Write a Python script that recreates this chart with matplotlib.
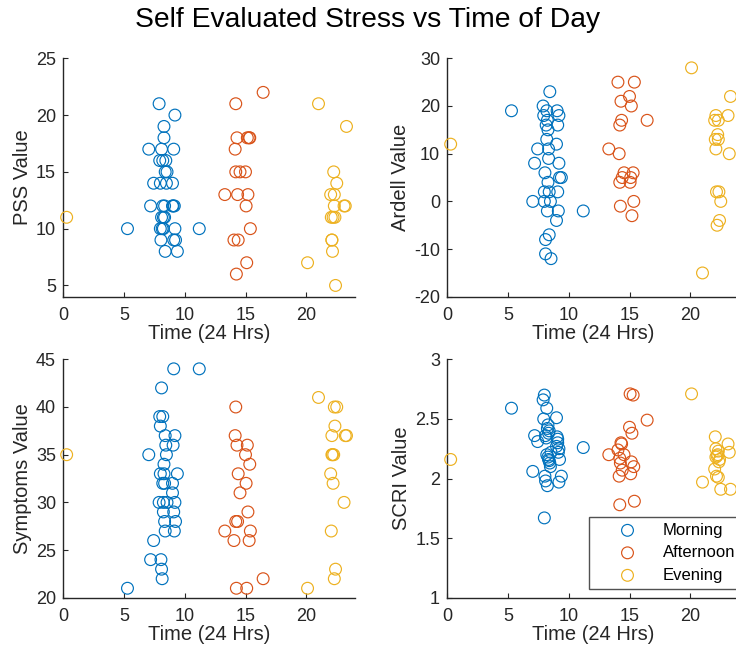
import matplotlib
matplotlib.use("Agg")
import matplotlib.pyplot as plt
from matplotlib.ticker import FormatStrFormatter

plt.rcParams['font.family'] = ['Liberation Sans', 'DejaVu Sans']

# ---------------- data ----------------
groups = ["Morning", "Afternoon", "Evening"]
colors = ["#0072BD", "#D95319", "#EDB120"]

morning_time = [5.3, 7.05, 7.2, 7.45,
                7.9, 7.95, 8.0, 8.0, 8.05, 8.1, 8.1, 8.15, 8.2, 8.2, 8.25, 8.25, 8.3, 8.3,
                8.35, 8.35, 8.4, 8.4, 8.45, 8.5, 8.55,
                9.0, 9.0, 9.05, 9.1, 9.1, 9.15, 9.2, 9.2, 9.25, 9.4,
                11.2]
afternoon_time = [13.3, 14.05, 14.15, 14.2, 14.2, 14.25, 14.3, 14.35, 14.4, 14.55,
                  15.0, 15.05, 15.1, 15.15, 15.2, 15.3, 15.35, 15.4, 16.45]
evening_time = [0.3, 20.1, 21.0, 22.0, 22.05, 22.1, 22.1, 22.15, 22.2, 22.25, 22.3, 22.3,
                22.35, 22.4, 22.5, 23.1, 23.2, 23.3]

pss_morning = [10, 17, 12, 14,
               21, 16, 14, 10, 9, 17, 11, 10, 16, 12, 11, 10, 19, 18, 12, 11, 8, 15, 16, 14, 15,
               14, 12, 12, 9, 17, 12, 20, 10, 9, 8,
               10]
pss_afternoon = [13, 9, 17, 15, 21, 6, 18, 13, 9, 15, 15, 12, 7, 18, 13, 18, 18, 10, 22]
pss_evening = [11, 7, 21, 13, 11, 9, 9, 8, 11, 15, 13, 12, 11, 5, 14, 12, 12, 19]

ardell_morning = [19, 0, 8, 11,
                  20, 18, 2, 0, 6, -8, -11, 16, 13, 19, 17, -2, 4, 15, 11, 9, 2, -7, 23, 0, -12,
                  -4, 12, 19, 16, 2, -2, 8, 18, 5, 5,
                  -2]
ardell_afternoon = [11, 25, 10, 4, 16, -1, 21, 17, 5, 6, 22, 4, 5, 20, -3, 6, 0, 25, 17]
ardell_evening = [12, 28, -15, 17, 13, 18, 11, 2, -5, 14, 13, 17, 2, -4, 0, 18, 10, 22]

symptoms_morning = [21, 35, 24, 26,
                    30, 39, 38, 33, 24, 23, 42, 22, 39, 32, 30, 29, 34, 33, 32, 28, 27, 37, 36, 35, 30,
                    32, 31, 36, 44, 29, 27, 37, 30, 28, 33,
                    44]
symptoms_afternoon = [27, 26, 37, 40, 28, 21, 36, 28, 33, 31, 35, 32, 21, 36, 29, 26, 34, 27, 22]
symptoms_evening = [35, 21, 41, 33, 27, 37, 35, 35, 32, 35, 40, 22, 38, 23, 40, 30, 37, 37]

scri_morning = [2.59, 2.06, 2.36, 2.31,
                2.66, 2.50, 2.70, 1.67, 2.02, 2.36, 1.98, 2.34, 2.59, 2.20, 2.42, 1.94, 2.18, 2.45,
                2.38, 2.16, 2.40, 2.15, 2.13, 2.10, 2.22,
                2.51, 2.27, 2.35, 2.30, 2.33, 2.22, 2.25, 1.97, 2.16, 2.02,
                2.26]
scri_afternoon = [2.20, 2.24, 2.02, 1.78, 2.17, 2.13, 2.30, 2.29, 2.07, 2.20,
                  2.43, 2.71, 2.04, 2.14, 2.38, 2.70, 2.10, 1.81, 2.49]
scri_evening = [2.16, 2.71, 1.97, 2.08, 2.35, 2.25, 2.18, 2.02, 2.19, 2.20, 2.01, 2.23,
                2.14, 2.16, 1.91, 2.29, 2.22, 1.91]

times = [morning_time, afternoon_time, evening_time]
panels = [
    ("PSS Value", [pss_morning, pss_afternoon, pss_evening], (4, 25), [5, 10, 15, 20, 25]),
    ("Ardell Value", [ardell_morning, ardell_afternoon, ardell_evening], (-20, 30), [-20, -10, 0, 10, 20, 30]),
    ("Symptoms Value", [symptoms_morning, symptoms_afternoon, symptoms_evening], (20, 45), [20, 25, 30, 35, 40, 45]),
    ("SCRI Value", [scri_morning, scri_afternoon, scri_evening], (1, 3), [1, 1.5, 2, 2.5, 3]),
]
x_ticks = [0, 5, 10, 15, 20]
x_label = "Time (24 Hrs)"
title = "Self Evaluated Stress vs Time of Day"

# ---------------- figure ----------------
W, H = 736, 650
fig = plt.figure(figsize=(W / 100, H / 100), dpi=100)
axcol = "#262626"

lefts = [63, 447]
tops = [58.3, 359.3]
aw, ah = 292, 238.5

axes = []
for i, (ylab, vals, ylim, yt) in enumerate(panels):
    r, c = divmod(i, 2)
    ax = fig.add_axes([lefts[c] / W, 1 - (tops[r] + ah) / H, aw / W, ah / H])
    handles = []
    for g in range(3):
        h = ax.scatter(times[g], vals[g], s=72, facecolors='none', edgecolors=colors[g],
                       linewidths=0.85, label=groups[g], clip_on=False, zorder=3)
        handles.append(h)
    ax.set_xlim(0, 24)
    ax.set_ylim(*ylim)
    ax.set_xticks(x_ticks)
    ax.set_yticks(yt)
    ax.yaxis.set_major_formatter(FormatStrFormatter('%g'))
    for side in ("top", "right"):
        ax.spines[side].set_visible(False)
    for side in ("left", "bottom"):
        ax.spines[side].set_color(axcol)
        ax.spines[side].set_linewidth(1.0)
    ax.tick_params(direction='in', length=3.5, width=0.8, color=axcol, labelcolor=axcol,
                   labelsize=13)
    ax.tick_params(axis='x', pad=7.5)
    ax.tick_params(axis='y', pad=5)
    ax.set_xlabel(x_label, fontsize=14.5, color=axcol, labelpad=0)
    ax.set_ylabel(ylab, fontsize=14.5, color=axcol, labelpad=3)
    axes.append((ax, handles))

fig.text(0.5, 1 - 20 / H, title, ha='center', va='center', fontsize=20.3, color='black')

ax4, hs = axes[3]
leg = ax4.legend(hs, groups, loc='upper left', bbox_to_anchor=(589 / W, 1 - 516.7 / H),
                 bbox_transform=fig.transFigure, fontsize=12, frameon=True, fancybox=False,
                 borderpad=0.36, handlelength=3.9, handletextpad=0.18, labelspacing=0.45,
                 borderaxespad=0, scatterpoints=1)
leg.get_frame().set_edgecolor(axcol)
leg.get_frame().set_linewidth(1.0)
for t in leg.get_texts():
    t.set_color('black')

fig.savefig("out.png", dpi=100)
